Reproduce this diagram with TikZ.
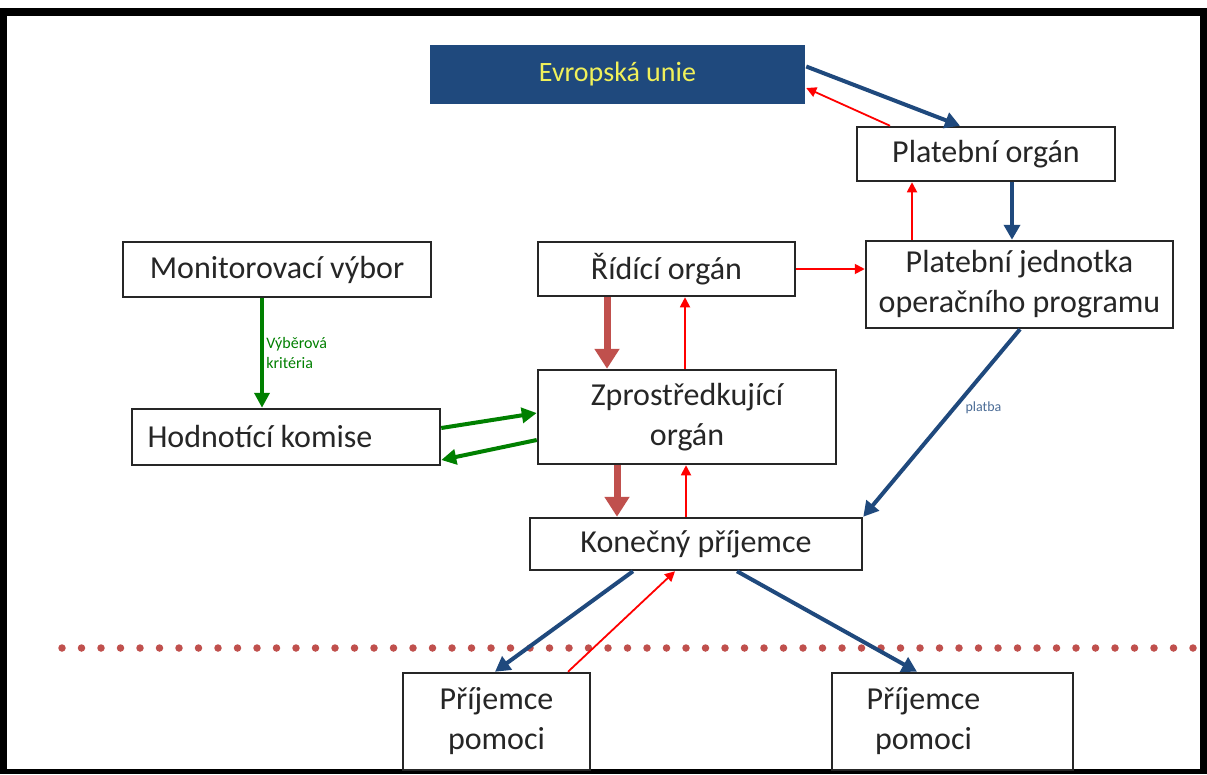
\documentclass[tikz,border=0pt]{standalone}
\usepackage{fontspec}
\setmainfont{Carlito}
\usetikzlibrary{arrows.meta}

\definecolor{unieblue}{RGB}{31,73,125}
\definecolor{unieyellow}{RGB}{240,240,90}
\definecolor{brick}{RGB}{192,80,77}
\definecolor{leafgreen}{RGB}{0,128,0}

\begin{document}
\begin{tikzpicture}
    [x=1pt,y=-1pt,
    font=\fontsize{32}{40}\selectfont,
    box/.style={draw=black!85,line width=2.5pt,fill=white,align=center,text=black!85,inner sep=0pt},
    flow/.style={-{Triangle[length=15pt,width=16pt]},unieblue,line width=4pt},
    back/.style={-{Triangle[length=10pt,width=10pt]},red,line width=1.8pt},
    order/.style={-{Triangle[length=20pt,width=24pt]},brick,line width=7pt},
    pick/.style={-{Triangle[length=15pt,width=15pt]},leafgreen,line width=4pt},
    dots/.style={brick,line width=7.5pt,line cap=round,dash pattern=on 0pt off 19.5pt}]

\useasboundingbox (0,0) rectangle (1207,774);

%frame
\fill[black] (0,8) rectangle (1207,774);
\fill[white] (7,16) rectangle (1200,769);

%boxes
\node[box,fill=unieblue,draw=none,minimum width=375pt,minimum height=59pt,text=unieyellow,font=\fontsize{28}{34}\selectfont] (eu) at (617.5,74.5) {Evropská unie};
\node[box,minimum width=258pt,minimum height=54pt] (po) at (986,154) {Platební orgán};
\node[box,minimum width=308pt,minimum height=55pt] (mv) at (277,269.5) {Monitorovací výbor};
\node[box,minimum width=257pt,minimum height=54pt] (ro) at (666.5,269) {Řídící orgán};
\node[box,minimum width=307pt,minimum height=87pt] (pj) at (1019.5,284.5) {Platební jednotka\\operačního programu};
\node[box,minimum width=298pt,minimum height=94pt] (zo) at (687,417) {Zprostředkující\\orgán};
\node[box,minimum width=308pt,minimum height=56pt,label={[xshift=-26pt,text=black!85]center:Hodnotící komise}] (hk) at (286,437) {};
\node[box,minimum width=332pt,minimum height=52pt] (kp) at (696,544) {Konečný příjemce};
\node[box,minimum width=187pt,minimum height=97pt] (pl) at (496.5,721.5) {Příjemce\\pomoci};
\node[box,minimum width=241pt,minimum height=97pt,label={[xshift=-29pt,align=center,text=black!85]center:Příjemce\\pomoci}] (pr) at (952.5,721.5) {};

%EU and payment body
\draw[flow] ([yshift=8pt]eu.east) -- ([xshift=-26pt]po.north);
\draw[back] ([xshift=-96pt]po.north) -- ([yshift=-13.5pt]eu.east);
\draw[flow] ([xshift=26pt]po.south) -- ([xshift=-7.5pt]pj.north);
\draw[back] ([xshift=-107.5pt]pj.north) -- ([xshift=-74pt]po.south);
\draw[back] (ro.east) -- (ro.east -| pj.west);

%managing and intermediate body
\draw[order] ([xshift=-59.5pt]ro.south) -- ([xshift=-80pt]zo.north);
\draw[back] ([xshift=-2pt]zo.north) -- ([xshift=18.5pt]ro.south);

%monitoring committee
\draw[pick] ([xshift=-15pt]mv.south) -- ([xshift=-15pt]mv.south |- hk.north)
    node[midway,right,xshift=-1pt,align=left,font=\fontsize{16}{20}\selectfont,text=leafgreen] {Výběrová\\kritéria};
\draw[pick] ([yshift=9pt]hk.east) -- ([yshift=4pt]zo.west);
\draw[pick] ([yshift=-23pt]zo.west) -- ([yshift=-23pt]hk.east);

%final beneficiary
\draw[order] ([xshift=-70pt]zo.south) -- ([xshift=-79pt]kp.north);
\draw[back] ([xshift=-10pt]kp.north) -- ([xshift=-1pt]zo.south);
\draw[flow] ([xshift=0.5pt]pj.south) -- (kp.north east)
    node[pos=0.42,right,xshift=6pt,font=\fontsize{14}{16}\selectfont,text=unieblue!80] {platba};

%aid recipients
\draw[dots] (62,648) -- (1195,648);
\draw[flow] ([xshift=-63pt]kp.south) -- ([xshift=-1.5pt]pl.north);
\draw[back] ([xshift=71.5pt]pl.north) -- ([xshift=-21pt]kp.south);
\draw[flow] ([xshift=41pt]kp.south) -- ([xshift=-35.5pt]pr.north);

\end{tikzpicture}
\end{document}
